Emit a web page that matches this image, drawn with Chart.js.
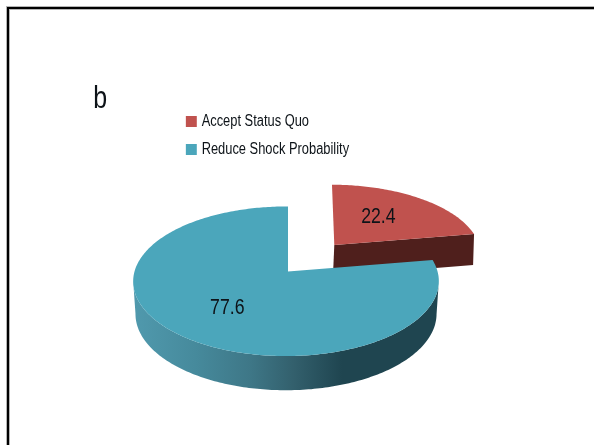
<!DOCTYPE html>
<html>
<head>
<meta charset="utf-8">
<style>
  html, body { margin: 0; padding: 0; background: #fff; overflow: hidden; }
  canvas { display: block; }
</style>
<script src="https://cdn.jsdelivr.net/npm/chart.js@4"></script>
</head>
<body>
<canvas id="chart" width="594" height="445"></canvas>
<script>
// Values
const categories = ['Accept Status Quo', 'Reduce Shock Probability'];
const shares = [22.4, 77.6];
const panelLetter = 'b';

// Slice styling
const sliceColors = ['#c0524e', '#4ba6bb'];
const explodeRatio = [0.5, 0];
const wallDepth = [31.1, 32.5];
const baseWidth = [1.003, 0.985];
const labelRadius = [0.53, 0.58];
const labelNudge = [[-0.5, -3], [0, 1.5]];
const redWallColor = '#4f1f1c';
const tealWallStops = [
  [0, '#5099ad'], [0.2, '#468a9c'], [0.38, '#3e7787'],
  [0.52, '#33606d'], [0.68, '#1f4550'], [1, '#1f4550']
];

// The condensed look of the text comes from a horizontal squeeze
const FONT = '"Liberation Sans", sans-serif';
const SQUEEZE = 0.805;
const INK = '#0d1318';

// Tilted-disc projection: maps a point of the unit disc onto the page.
const view = { cx: 288, cy: 271.5, a: 151.5, b: 73.5, k: 0.1305, m: 0.013 };
function projectTop(u, v) {
  const w = 1 + view.k * v + view.m * u;
  return { x: view.cx + view.a * u / w, y: view.cy - view.b * v / w };
}
function projectBase(u, v, index) {
  const p = projectTop(u, v);
  return {
    x: view.cx + (p.x - view.cx) * baseWidth[index],
    y: p.y + (p.y - view.cy) * 0.02 + wallDepth[index]
  };
}

// Outline of one slice in unit-disc coordinates, read from the arc element.
function sliceOutline(arc, ratio) {
  const mid = (arc.startAngle + arc.endAngle) / 2;
  const ox = Math.cos(mid) * ratio, oy = -Math.sin(mid) * ratio;
  const steps = Math.max(8, Math.ceil((arc.endAngle - arc.startAngle) * 60));
  const rim = [];
  for (let i = 0; i <= steps; i++) {
    const t = arc.startAngle + (arc.endAngle - arc.startAngle) * i / steps;
    rim.push([ox + Math.cos(t), oy - Math.sin(t)]);
  }
  return { rim, apex: [ox, oy], mid, ox, oy };
}

function addQuad(ctx, a, b, c, d) {
  ctx.moveTo(a.x, a.y);
  ctx.lineTo(b.x, b.y);
  ctx.lineTo(c.x, c.y);
  ctx.lineTo(d.x, d.y);
  ctx.closePath();
}

function drawSlice(ctx, arc, index) {
  const shape = sliceOutline(arc, explodeRatio[index]);
  const rim = shape.rim;
  ctx.save();

  // The pulled-out slice sits slightly skewed about its own point
  if (explodeRatio[index] > 0) {
    const tip = projectTop(shape.apex[0], shape.apex[1]);
    ctx.translate(tip.x - 0.2, tip.y + 0.1);
    ctx.transform(1.0242, -0.0043, -0.0495, 1.0207, 0, 0);
    ctx.translate(-tip.x, -tip.y);
  }

  // Side wall: only the faces turned toward the viewer
  ctx.beginPath();
  for (let i = 0; i < rim.length - 1; i++) {
    const p = projectTop(rim[i][0], rim[i][1]);
    const q = projectTop(rim[i + 1][0], rim[i + 1][1]);
    if (q.x < p.x) {
      addQuad(ctx, p, q, projectBase(rim[i + 1][0], rim[i + 1][1], index), projectBase(rim[i][0], rim[i][1], index));
    }
  }
  const last = rim[rim.length - 1];
  const e1 = projectTop(last[0], last[1]);
  const e2 = projectTop(shape.apex[0], shape.apex[1]);
  if (e1.x - e2.x > Math.abs(e2.y - e1.y)) {
    addQuad(ctx, e1, e2, projectBase(shape.apex[0], shape.apex[1], index), projectBase(last[0], last[1], index));
  }
  if (index === 0) {
    ctx.fillStyle = redWallColor;
  } else {
    const g = ctx.createLinearGradient(134, 0, 440, 0);
    tealWallStops.forEach(s => g.addColorStop(s[0], s[1]));
    ctx.fillStyle = g;
  }
  ctx.fill();

  // Top face
  ctx.beginPath();
  const start = projectTop(shape.apex[0], shape.apex[1]);
  ctx.moveTo(start.x, start.y);
  rim.forEach(r => {
    const p = projectTop(r[0], r[1]);
    ctx.lineTo(p.x, p.y);
  });
  ctx.closePath();
  ctx.fillStyle = arc.options.backgroundColor;
  ctx.fill();
  ctx.restore();
}

function squeezedText(ctx, text, x, y) {
  ctx.save();
  ctx.translate(x, y);
  ctx.scale(SQUEEZE, 1);
  ctx.fillText(text, 0, 0);
  ctx.restore();
}

function drawValue(ctx, arc, index, value) {
  const shape = sliceOutline(arc, explodeRatio[index]);
  const r = labelRadius[index];
  const p = projectTop(shape.ox + Math.cos(shape.mid) * r, shape.oy - Math.sin(shape.mid) * r);
  ctx.font = '22px ' + FONT;
  ctx.fillStyle = INK;
  ctx.textAlign = 'center';
  ctx.textBaseline = 'middle';
  squeezedText(ctx, value.toFixed(1), p.x + labelNudge[index][0], p.y + labelNudge[index][1]);
}

// Replaces the flat pie rendering with the extruded, exploded version
const tiltedPie = {
  id: 'tiltedPie',
  beforeDatasetDraw(chart, args) {
    const ctx = chart.ctx;
    const arcs = args.meta.data;
    ctx.save();
    arcs.forEach((arc, i) => drawSlice(ctx, arc, i));
    arcs.forEach((arc, i) => drawValue(ctx, arc, i, shares[i]));
    ctx.restore();
    return false;
  }
};

// Places the legend block above the pie and condenses it
const legendPlacement = {
  id: 'legendPlacement',
  afterLayout(chart) {
    const legend = chart.legend;
    const width = legend.width;
    legend.left = 0;
    legend.right = width;
    legend.top = 101.6;
    legend.bottom = 301.6;
    if (!legend.squeezedDraw) {
      const plainDraw = legend.draw;
      legend.squeezedDraw = true;
      legend.draw = function () {
        const ctx = this.ctx;
        ctx.save();
        ctx.translate(177.8, 0);
        ctx.scale(SQUEEZE, 1);
        plainDraw.call(this);
        ctx.restore();
      };
    }
  }
};

// Panel letter and the frame's top and left rules
const panelFurniture = {
  id: 'panelFurniture',
  afterDraw(chart) {
    const ctx = chart.ctx;
    ctx.save();
    ctx.fillStyle = '#b4b4b4';
    ctx.fillRect(6, 6, 588, 4);
    ctx.fillRect(6, 6, 4, 439);
    ctx.fillStyle = '#000';
    ctx.fillRect(7, 7, 587, 2);
    ctx.fillRect(7, 7, 2, 438);
    ctx.font = '31px ' + FONT;
    ctx.fillStyle = INK;
    ctx.textAlign = 'left';
    ctx.textBaseline = 'alphabetic';
    squeezedText(ctx, panelLetter, 93.3, 108);
    ctx.restore();
  }
};

new Chart(document.getElementById('chart'), {
  type: 'pie',
  data: {
    labels: categories,
    datasets: [{ data: shares, backgroundColor: sliceColors, borderWidth: 0 }]
  },
  options: {
    responsive: false,
    animation: false,
    events: [],
    plugins: {
      tooltip: { enabled: false },
      legend: {
        position: 'left',
        align: 'start',
        labels: {
          boxWidth: 9.6,
          boxHeight: 7,
          padding: 12,
          color: INK,
          font: { family: FONT, size: 16, lineHeight: 1.2 },
          generateLabels(chart) {
            const base = Chart.overrides.pie.plugins.legend.labels.generateLabels(chart);
            return base.map(item => ({ ...item, strokeStyle: item.fillStyle, lineWidth: 4 }));
          }
        }
      }
    }
  },
  plugins: [tiltedPie, legendPlacement, panelFurniture]
});
</script>
</body>
</html>
